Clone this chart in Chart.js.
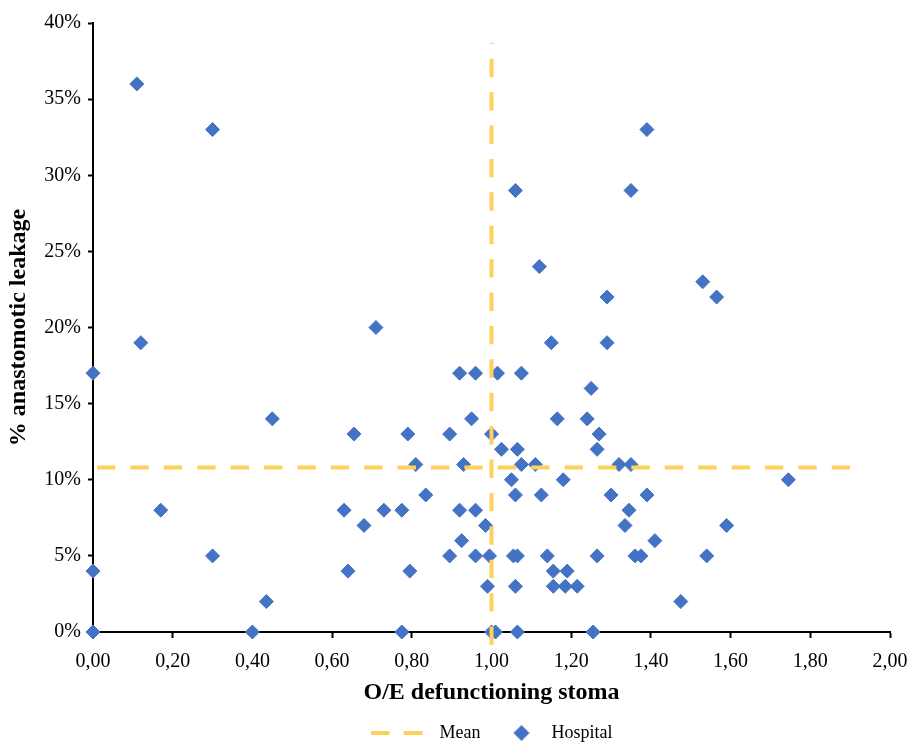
<!DOCTYPE html>
<html>
<head>
<meta charset="utf-8">
<script src="https://cdn.jsdelivr.net/npm/chart.js@4.4.1/dist/chart.umd.min.js"></script>
<style>
html, body { margin: 0; padding: 0; background: #ffffff; }
#wrap { width: 908px; height: 744px; }
</style>
</head>
<body>
<div id="wrap"><canvas id="c" width="908" height="744"></canvas></div>
<script>
// ---- data ----
const seriesNames = ['Mean', 'Hospital'];
const xTitle = 'O/E defunctioning stoma';
const yTitle = '% anastomotic leakage';

const hospitalX = [
  0.11, 0.30, 0.71, 0.12, 0.00, 0.45, 0.655, 0.17, 0.63, 0.68, 0.30, 0.00, 0.64, 0.435, 0.00, 0.40,
  1.39, 1.06, 1.35, 1.12, 1.29, 1.53, 1.565,
  1.15, 1.29, 0.92, 0.96, 1.015, 1.075, 1.25, 0.95, 1.165, 1.24,
  0.79, 0.895, 1.00, 1.27, 1.025, 1.065, 1.265,
  0.81, 0.93, 1.075, 1.11, 1.32, 1.35,
  1.05, 1.18, 1.745,
  0.835, 1.06, 1.125, 1.30, 1.39,
  0.73, 0.775, 0.92, 0.96, 1.345,
  0.985, 1.335, 1.59,
  0.925, 1.41,
  0.895, 0.96, 0.995, 1.055, 1.065, 1.14, 1.265, 1.36, 1.375, 1.54,
  0.795, 1.155, 1.19,
  0.99, 1.06, 1.155, 1.185, 1.215,
  1.475,
  0.775, 1.00, 1.01, 1.065, 1.255
];
const hospitalY = [
  36, 33, 20, 19, 17, 14, 13, 8, 8, 7, 5, 4, 4, 2, 0, 0,
  33, 29, 29, 24, 22, 23, 22,
  19, 19, 17, 17, 17, 17, 16, 14, 14, 14,
  13, 13, 13, 13, 12, 12, 12,
  11, 11, 11, 11, 11, 11,
  10, 10, 10,
  9, 9, 9, 9, 9,
  8, 8, 8, 8, 8,
  7, 7, 7,
  6, 6,
  5, 5, 5, 5, 5, 5, 5, 5, 5, 5,
  4, 4, 4,
  3, 3, 3, 3, 3,
  2,
  0, 0, 0, 0, 0
];

// mean lines (vertical: mean O/E, horizontal: mean leakage %)
const meanVerticalX = [1.00, 1.00];
const meanVerticalY = [-0.85, 38.7];
const meanHorizontalX = [0.01, 1.90];
const meanHorizontalY = [10.8, 10.8];

const xTicks = [0.0, 0.2, 0.4, 0.6, 0.8, 1.0, 1.2, 1.4, 1.6, 1.8, 2.0];
const yTicks = [0, 5, 10, 15, 20, 25, 30, 35, 40];

// ---- styles ----
const BLUE = '#4472C4';
const GOLD = '#FFD05A';
const FONT = 'Liberation Serif';

Chart.defaults.font.family = FONT;
Chart.defaults.color = '#000000';

function toPoints(xs, ys) { return xs.map((x, i) => ({ x: x, y: ys[i] })); }

// legend icons
const meanIcon = document.createElement('canvas');
meanIcon.width = 60; meanIcon.height = 6;
(function () {
  const g = meanIcon.getContext('2d');
  g.fillStyle = GOLD;
  g.fillRect(0, 1, 19, 4);
  g.fillRect(33, 1, 19, 4);
})();
const hospIcon = document.createElement('canvas');
hospIcon.width = 60; hospIcon.height = 18;
(function () {
  const g = hospIcon.getContext('2d');
  g.fillStyle = BLUE;
  g.beginPath();
  g.moveTo(39 - 8, 9); g.lineTo(39, 1); g.lineTo(39 + 8, 9); g.lineTo(39, 17);
  g.closePath(); g.fill();
})();

const meanStyle = {
  showLine: true,
  borderColor: GOLD,
  backgroundColor: GOLD,
  borderWidth: 4,
  borderDash: [18.4, 15],
  borderCapStyle: 'butt',
  pointRadius: 0,
  pointHoverRadius: 0,
  fill: false,
  clip: false
};

const chart = new Chart(document.getElementById('c'), {
  type: 'scatter',
  data: {
    datasets: [
      Object.assign({ label: seriesNames[0], data: toPoints(meanVerticalX, meanVerticalY) }, meanStyle),
      Object.assign({ label: seriesNames[0], data: toPoints(meanHorizontalX, meanHorizontalY) }, meanStyle),
      {
        label: seriesNames[1],
        data: toPoints(hospitalX, hospitalY),
        pointStyle: 'rectRot',
        pointRadius: 7,
        pointHoverRadius: 7,
        pointBackgroundColor: BLUE,
        pointBorderColor: BLUE,
        pointBorderWidth: 1,
        backgroundColor: BLUE,
        borderColor: BLUE,
        clip: false
      }
    ]
  },
  options: {
    responsive: false,
    devicePixelRatio: 1,
    animation: false,
    layout: { padding: { top: 23, right: 18, left: 0, bottom: -8 } },
    plugins: {
      tooltip: { enabled: false },
      legend: {
        display: true,
        position: 'bottom',
        fullSize: false,
        labels: {
          usePointStyle: true,
          pointStyleWidth: 60,
          padding: 2,
          color: '#000000',
          font: { family: FONT, size: 18 },
          generateLabels: function (ch) {
            const items = Chart.defaults.plugins.legend.labels.generateLabels(ch);
            return items
              .filter(it => it.datasetIndex !== 1)
              .map(it => {
                it.pointStyle = it.datasetIndex === 0 ? meanIcon : hospIcon;
                it.fontColor = '#000000';
                return it;
              });
          }
        }
      }
    },
    scales: {
      x: {
        type: 'linear',
        min: 0,
        max: 2,
        afterBuildTicks: s => { s.ticks = xTicks.map(v => ({ value: v })); },
        afterFit: s => { s.height = 90; s.paddingLeft = 0; s.paddingRight = 0; },
        ticks: {
          color: '#000000',
          font: { family: FONT, size: 20 },
          padding: 12,
          maxRotation: 0,
          autoSkip: false,
          callback: v => Number(v).toFixed(2).replace('.', ',')
        },
        grid: {
          display: true,
          drawOnChartArea: false,
          drawTicks: true,
          tickLength: 6,
          tickColor: '#000000',
          tickWidth: 2
        },
        border: { display: true, color: '#000000', width: 2 },
        title: {
          display: true,
          text: xTitle,
          color: '#000000',
          font: { family: FONT, size: 24, weight: 'bold' },
          padding: { top: 0, bottom: 15 }
        }
      },
      y: {
        type: 'linear',
        min: 0,
        max: 40,
        afterBuildTicks: s => { s.ticks = yTicks.map(v => ({ value: v })); },
        afterFit: s => { s.width = 93; s.paddingTop = 0; s.paddingBottom = 0; },
        ticks: {
          color: '#000000',
          font: { family: FONT, size: 20 },
          padding: 7,
          autoSkip: false,
          callback: v => v + '%'
        },
        grid: {
          display: true,
          drawOnChartArea: false,
          drawTicks: true,
          tickLength: 5,
          tickColor: '#000000',
          tickWidth: 2
        },
        border: { display: true, color: '#000000', width: 2 },
        title: {
          display: true,
          text: yTitle,
          color: '#000000',
          font: { family: FONT, size: 24, weight: 'bold' },
          padding: { top: 4, bottom: 0 }
        }
      }
    }
  }
});
</script>
</body>
</html>
